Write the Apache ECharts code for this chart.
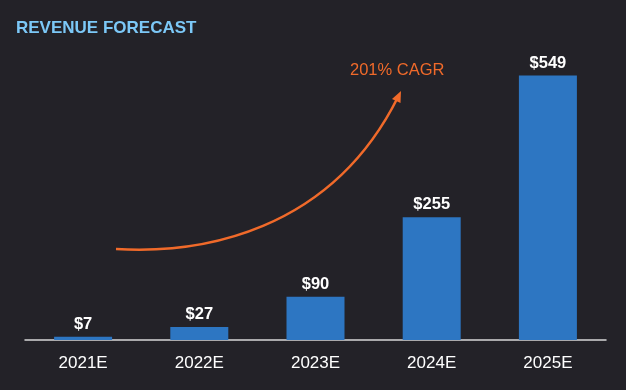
<!DOCTYPE html>
<html><head><meta charset="utf-8">
<script src="https://cdn.jsdelivr.net/npm/echarts@6/dist/echarts.min.js"></script>
<style>html,body{margin:0;padding:0;background:#232228;}#c{width:626px;height:390px;}</style>
</head><body><div id="c"></div>
<script>
const categories = ['2021E','2022E','2023E','2024E','2025E'];
const revenue = [7, 27, 90, 255, 549];
const valueLabels = ['$7','$27','$90','$255','$549'];
const titleText = 'REVENUE FORECAST';
const cagrText = '201% CAGR';

const orange = '#f06a2a';
const chart = echarts.init(document.getElementById('c'));
chart.setOption({
  backgroundColor: '#232228',
  animation: false,
  title: {
    text: titleText, left: 11, top: 15,
    textStyle: { color: '#7cc8f7', fontSize: 17, fontWeight: 'bold', fontFamily: 'Liberation Sans' }
  },
  grid: { left: 25, right: 20, top: 51, bottom: 50 },
  xAxis: {
    type: 'category', data: categories,
    axisLine: { lineStyle: { color: '#d8d8d8', width: 1.5 } },
    axisTick: { show: false },
    axisLabel: { color: '#ffffff', fontSize: 17, fontFamily: 'Liberation Sans', margin: 15 }
  },
  yAxis: { type: 'value', min: 0, max: 600, show: false, splitLine: { show: false } },
  series: [{
    type: 'bar', data: revenue, barWidth: 58,
    itemStyle: { color: '#2d76c2' },
    label: {
      show: true, position: 'top', distance: 4, color: '#ffffff', fontSize: 16.5,
      fontWeight: 'bold', fontFamily: 'Liberation Sans',
      formatter: p => valueLabels[p.dataIndex]
    }
  }],
  graphic: [
    { type: 'bezierCurve', shape: { x1: 116, y1: 249, cpx1: 200, cpy1: 254, cpx2: 330, cpy2: 233, x2: 398, y2: 97 },
      style: { stroke: orange, lineWidth: 2.5, fill: null } },
    { type: 'polygon', shape: { points: [[401, 91], [400.5, 103], [392, 99]] }, style: { fill: orange } },
    { type: 'text', left: 350, top: 62, style: { text: cagrText, fill: orange, fontSize: 16.5, fontFamily: 'Liberation Sans' } }
  ]
});
</script></body></html>
